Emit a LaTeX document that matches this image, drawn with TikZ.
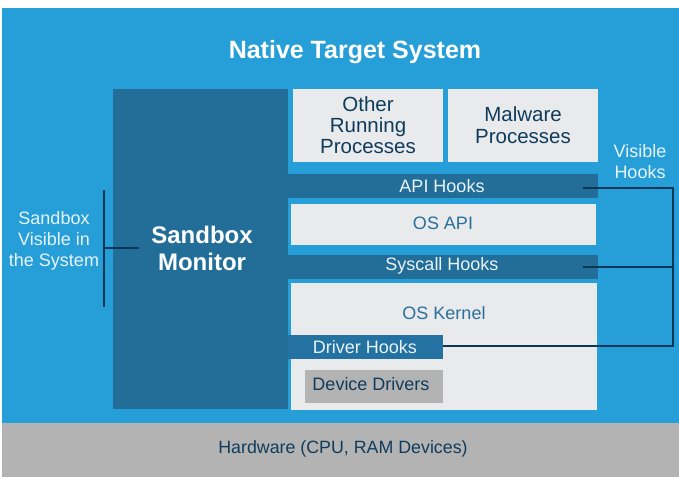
\documentclass[tikz,border=0pt]{standalone}
\usepackage{fontspec}
\setmainfont{Liberation Sans}
\definecolor{bgblue}{RGB}{38,159,217}
\definecolor{darkblue}{RGB}{35,110,153}
\definecolor{drvblue}{RGB}{36,114,161}
\definecolor{lightbox}{RGB}{232,234,236}
\definecolor{midgray}{RGB}{179,179,179}
\definecolor{navy}{RGB}{16,60,92}
\definecolor{midtext}{RGB}{42,111,156}
\definecolor{linecol}{RGB}{10,55,88}
\definecolor{paletext}{RGB}{232,243,250}
\begin{document}
\begin{tikzpicture}[x=1pt,y=-1pt,
  blk/.style={rectangle,inner sep=0pt,anchor=north west,draw=none},
  conn/.style={draw=linecol,line width=2pt},
  lbl/.style={inner sep=0pt,align=center},
  f18/.style={font=\fontsize{18}{21}\selectfont}]
\useasboundingbox (0,0) rectangle (679,477);
\fill[white] (0,0) rectangle (679,477);
% background panels
\node[blk,fill=bgblue,minimum width=677pt,minimum height=416pt] (sys) at (2,8) {};
\node[blk,fill=midgray,minimum width=677pt,minimum height=54pt] (hw) at (2,423) {};
\node[lbl,text=navy,font=\fontsize{17.8}{20}\selectfont] (hwl) at (343,449) {Hardware (CPU, RAM Devices)};
% title
\node[lbl,anchor=base,text=white,font=\bfseries\fontsize{25}{28}\selectfont] (title) at (355,58) {Native Target System};
% sandbox monitor
\node[blk,fill=darkblue,minimum width=175pt,minimum height=320pt] (mon) at (113,89) {};
\node[lbl,text=white,font=\bfseries\fontsize{24}{27}\selectfont] (monl) at (202,248) {Sandbox\\Monitor};
% processes
\node[blk,fill=lightbox,minimum width=150pt,minimum height=73pt] (other) at (293,89) {};
\node[lbl,text=navy,font=\fontsize{20.5}{21}\selectfont] (otherl) at (368,125) {Other\\Running\\Processes};
\node[blk,fill=lightbox,minimum width=150pt,minimum height=73pt] (mal) at (448,89) {};
\node[lbl,text=navy,font=\fontsize{20.5}{22}\selectfont] (mall) at (523,125) {Malware\\Processes};
% API hooks
\node[blk,fill=darkblue,minimum width=310pt,minimum height=24pt] (api) at (288,174) {};
\node[lbl,f18,text=paletext] (apil) at (442,186) {API Hooks};
% OS API
\node[blk,fill=lightbox,minimum width=305pt,minimum height=41pt] (osapi) at (291,204) {};
\node[lbl,f18,text=midtext] (osapil) at (443,223) {OS API};
% syscall hooks
\node[blk,fill=darkblue,minimum width=310pt,minimum height=24pt] (scall) at (288,255) {};
\node[lbl,f18,text=paletext] (scalll) at (442,266) {Syscall Hooks};
% OS kernel
\node[blk,fill=lightbox,minimum width=306pt,minimum height=127pt] (kern) at (291,283) {};
\node[lbl,f18,text=midtext] (kernl) at (444,313) {OS Kernel};
% driver hooks
\node[blk,fill=drvblue,minimum width=155pt,minimum height=24pt] (drv) at (288,335) {};
\node[lbl,f18,text=paletext] (drvl) at (365,347) {Driver Hooks};
% device drivers
\node[blk,fill=midgray,minimum width=138pt,minimum height=33pt] (dev) at (305,370) {};
\node[lbl,f18,text=navy] (devl) at (371,384) {Device Drivers};
% left annotation
\node[lbl,f18,text=paletext] (vis) at (54,241) {Sandbox\\Visible in\\the System};
\coordinate (bt) at (104,190);
\coordinate (bb) at (104,307);
\coordinate (bm) at (104,248);
\draw[conn] (bt) -- (bb);
\draw[conn] (bm) -- ([xshift=26pt]mon.west |- bm);
% right annotation
\node[lbl,f18,text=paletext] (vh) at (640,162) {Visible\\Hooks};
\coordinate (rt) at (673,188);
\coordinate (rb) at (673,346);
\draw[conn] ([xshift=-15pt]api.east |- rt) -- (rt) -- (rb) -- (drv.east |- rb);
\draw[conn] ([xshift=-15pt]scall.east) -- (scall.east -| rt);
\end{tikzpicture}
\end{document}
